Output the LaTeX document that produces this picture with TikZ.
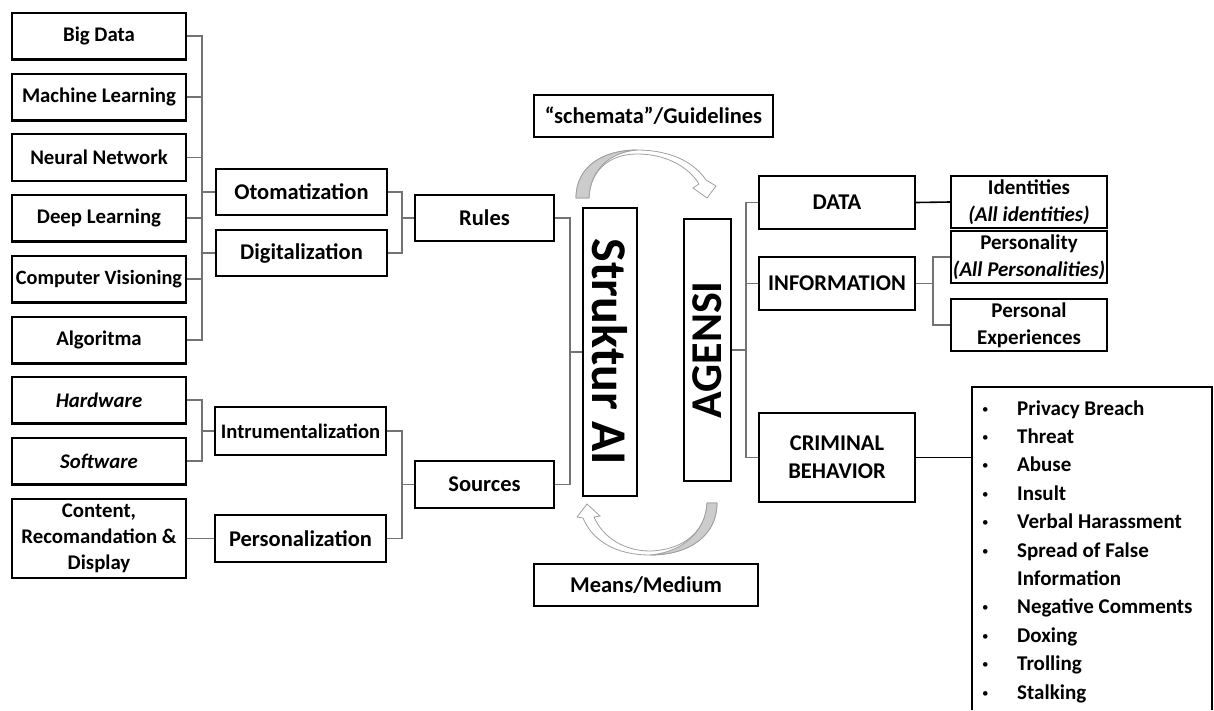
\documentclass[tikz,border=0pt]{standalone}
\usepackage{fontspec}
\setmainfont{Carlito}
\usepackage{tikz}

\begin{document}
\begin{tikzpicture}[x=1pt, y=-1pt,
  box/.style={draw, line width=2.4pt, inner sep=0pt, align=center, font=\bfseries\fontsize{20.8}{26}\selectfont},
  leftbox/.style={box, minimum width=174, minimum height=46.6},
  midbox/.style={box, font=\bfseries\fontsize{22.5}{28}\selectfont},
  rightbox/.style={box, font=\bfseries\fontsize{21}{27}\selectfont, minimum width=155.6, minimum height=51.6},
  conn/.style={draw=black!55, line width=1.6pt},
  darkconn/.style={draw=black, line width=1.6pt},
  band/.style={draw=gray!75, line width=0.8pt, fill=white},
  shade/.style={draw=gray!75, line width=0.8pt, fill=gray!40},
  item/.style={anchor=base west, inner sep=0pt, font=\bfseries\fontsize{21}{27}\selectfont}]
\useasboundingbox (0,0) rectangle (1214,710);

% left column
\node[leftbox] (bigdata) at (99,36) {Big Data};
\node[leftbox] (mlearn) at (99,97) {Machine Learning};
\node[leftbox] (neural) at (99,157.5) {Neural Network};
\node[leftbox] (deeplearn) at (99,218) {Deep Learning};
\node[leftbox, font=\bfseries\fontsize{20.3}{26}\selectfont] (compvis) at (99,279) {Computer Visioning};
\node[leftbox] (algo) at (99,340) {Algoritma};
\node[leftbox] (hardw) at (99,400) {\textit{Hardware}};
\node[leftbox] (softw) at (99,461) {\textit{Software}};
\node[leftbox, minimum height=78.6] (content) at (99,538.5) {Content,\\Recomandation \&\\Display};

% second column
\node[midbox, minimum width=170.6, minimum height=45.6] (otomat) at (301.5,192) {Otomatization};
\node[midbox, minimum width=170.6, minimum height=45.6] (digital) at (301.5,253) {Digitalization};
\node[midbox, minimum width=170.6, minimum height=47.6, font=\bfseries\fontsize{20.6}{26}\selectfont] (instrum) at (300.5,431) {Intrumentalization};
\node[midbox, minimum width=170.6, minimum height=46.6] (personal) at (300.5,538.5) {Personalization};
\node[midbox, minimum width=138.6, minimum height=45.6] (rules) at (484.5,218) {Rules};
\node[midbox, minimum width=138.6, minimum height=46.6] (sources) at (484.5,484.5) {Sources};

% centre
\node[box, minimum width=53.6, minimum height=287.6, font=\bfseries\fontsize{50}{50}\selectfont] (struktur) at (610,352) {\rotatebox{-90}{Struktur AI}};
\node[box, minimum width=46.6, minimum height=261.6, font=\bfseries\fontsize{44}{44}\selectfont] (agensi) at (707.5,350) {\rotatebox{90}{AGENSI}};
\node[midbox, minimum width=238.6, minimum height=41.6] (schemata) at (653.5,116) {“schemata”/Guidelines};
\node[midbox, minimum width=223.6, minimum height=41.6] (means) at (646,585) {Means/Medium};

% right side
\node[midbox, minimum width=155.6, minimum height=52.6] (data) at (837,202.5) {DATA};
\node[midbox, minimum width=155.6, minimum height=52.6] (inform) at (837,283.5) {INFORMATION};
\node[midbox, minimum width=155.6, minimum height=88.6] (criminal) at (837,457.5) {CRIMINAL\\BEHAVIOR};
\node[rightbox] (ident) at (1029,202) {Identities\\\textit{(All identities)}};
\node[rightbox] (persona) at (1029,257) {Personality\\\textit{(All Personalities)}};
\node[rightbox] (persexp) at (1029,325) {Personal\\Experiences};

% list of behaviours
\coordinate (lst) at (972,387);
\draw[line width=2.4pt] (972,710) -- (lst) -- (1212,387) -- (1212,710);
\foreach \txt/\k in {Privacy Breach/0, Threat/1, Abuse/2, Insult/3, Verbal Harassment/4, Spread of False/5, Negative Comments/7, Doxing/8, Trolling/9, Stalking/10} {
  \node[item] (crime\k) at (1017,{415+28.4*\k}) {\txt};
  \node[item, font=\fontsize{13}{13}\selectfont] (dot\k) at (982,{413+28.4*\k}) {\textbullet};
}
\node[item] (crime6) at (1017,{415+28.4*6}) {Information};

% buses
\coordinate (busA) at (202,0);
\coordinate (busB) at (402,0);
\coordinate (busC) at (570,0);
\coordinate (busD) at (746,0);
\coordinate (busE) at (933,0);

\draw[conn] (bigdata.east) -- (bigdata.east -| busA) -- (algo.east -| busA) -- (algo.east);
\foreach \n in {mlearn,neural,deeplearn,compvis}
  \draw[conn] (\n.east) -- (\n.east -| busA);
\foreach \n in {otomat,digital}
  \draw[conn] (\n.west -| busA) -- (\n.west);
\draw[conn] (otomat.east) -- (otomat.east -| busB) -- (digital.east -| busB) -- (digital.east);
\draw[conn] (rules.west -| busB) -- (rules.west);

\draw[conn] (hardw.east) -- (hardw.east -| busA) -- (softw.east -| busA) -- (softw.east);
\draw[conn] (instrum.west -| busA) -- (instrum.west);
\draw[conn] (content.east) -- (personal.west);
\draw[conn] (instrum.east) -- (instrum.east -| busB) -- (personal.east -| busB) -- (personal.east);
\draw[conn] (sources.west -| busB) -- (sources.west);

\draw[conn] (rules.east) -- (rules.east -| busC) -- (sources.east -| busC) -- (sources.east);
\draw[conn] (struktur.west -| busC) -- (struktur.west);

\draw[conn] (data.west) -- (data.west -| busD) -- (criminal.west -| busD) -- (criminal.west);
\draw[conn] (agensi.east) -- (agensi.east -| busD);
\draw[conn] (inform.west -| busD) -- (inform.west);
\draw[darkconn] (data.east) -- (ident.west);
\draw[conn] (persona.west) -- (persona.west -| busE) -- (persexp.west -| busE) -- (persexp.west);
\draw[conn] (inform.east) -- (inform.east -| busE);
\draw[darkconn] (criminal.east) -- (criminal.east -| lst);

% curved arrows
\draw[band] (576,198) .. controls (576,165) and (605,150) .. (637,150) .. controls (670,150) and (694,162) .. (706,180) -- (716,186) -- (707,198) -- (693,188) -- (699,184) .. controls (688,166) and (665,154) .. (637,154) .. controls (610,154) and (590,170) .. (589,198) -- cycle;
\draw[shade] (576,198) .. controls (576,165) and (605,150) .. (637,150) .. controls (612,152) and (590,168) .. (589,198) -- cycle;

\draw[band] (717,503) .. controls (717,535) and (690,555) .. (650,555) .. controls (615,555) and (592,540) .. (583,518) -- (577,517) -- (587,504) -- (600,516) -- (594,517) .. controls (603,538) and (625,551) .. (650,551) .. controls (685,550) and (706,530) .. (707,503) -- cycle;
\draw[shade] (717,503) .. controls (717,535) and (690,555) .. (650,555) .. controls (684,552) and (706,530) .. (707,503) -- cycle;

\end{tikzpicture}
\end{document}
